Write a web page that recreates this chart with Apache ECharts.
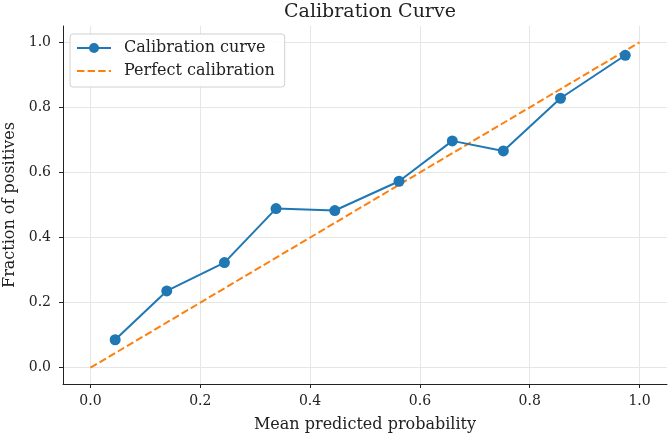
<!DOCTYPE html>
<html>
<head>
<meta charset="utf-8">
<script src="https://cdn.jsdelivr.net/npm/echarts@6/dist/echarts.min.js"></script>
<style>
  html, body { margin: 0; padding: 0; background: #fff; }
  #chart { width: 672px; height: 435px; }
</style>
</head>
<body>
<div id="chart"></div>
<script>
// values
var meanPredicted = [0.045, 0.139, 0.244, 0.338, 0.445, 0.562, 0.659, 0.752, 0.856, 0.974];
var fractionPositives = [0.086, 0.236, 0.323, 0.489, 0.483, 0.573, 0.697, 0.666, 0.828, 0.960];
var perfectX = [0, 1];
var perfectY = [0, 1];
var tickValues = [0, 0.2, 0.4, 0.6, 0.8, 1.0];

var font = "DejaVu Serif";

function pairs(xs, ys) {
  return xs.map(function (x, i) { return [x, ys[i]]; });
}

var chart = echarts.init(document.getElementById("chart"));

// axis settings shared by x and y (matplotlib look)
function axisCommon() {
  return {
    type: "value",
    min: -0.05,
    max: 1.05,
    axisLine: { show: true, onZero: false, lineStyle: { color: "#222", width: 1 } },
    axisTick: { show: true, inside: false, length: 4, customValues: tickValues, lineStyle: { color: "#222" } },
    axisLabel: {
      customValues: tickValues,
      fontFamily: font, fontSize: 14, color: "#222",
      formatter: function (v) { return v.toFixed(1); }
    },
    splitLine: { show: true, lineStyle: { color: "#e6e6e6", width: 1 } },
    nameLocation: "middle",
    nameTextStyle: { fontFamily: font, fontSize: 16, color: "#222" }
  };
}

var xAxis = axisCommon();
xAxis.name = "Mean predicted probability";
xAxis.nameGap = 33;
xAxis.axisLabel.margin = 10;

var yAxis = axisCommon();
yAxis.name = "Fraction of positives";
yAxis.nameGap = 45;
yAxis.axisLabel.margin = 12;

var option = {
  animation: false,
  backgroundColor: "#fff",
  title: {
    text: "Calibration Curve",
    left: 365, top: -2,
    textAlign: "center",
    textStyle: { fontFamily: font, fontSize: 19, fontWeight: "normal", color: "#222" }
  },
  grid: { left: 63, right: 5, top: 26, bottom: 51, containLabel: false, outerBoundsMode: "none" },
  legend: {
    orient: "vertical",
    left: 70, top: 34,
    padding: [6, 10, 8, 6],
    itemGap: 7,
    itemWidth: 34,
    itemHeight: 12.5,
    backgroundColor: "rgba(255,255,255,0.85)",
    borderColor: "#d0d0d0",
    borderWidth: 1,
    borderRadius: 3,
    textStyle: { fontFamily: font, fontSize: 16, color: "#222", padding: [0, 0, 0, 8] },
    data: [
      { name: "Calibration curve" },
      { name: "Perfect calibration", itemStyle: { opacity: 0 } }
    ]
  },
  xAxis: xAxis,
  yAxis: yAxis,
  series: [
    {
      name: "Calibration curve",
      type: "line",
      data: pairs(meanPredicted, fractionPositives),
      symbol: "circle",
      symbolSize: 11,
      itemStyle: { color: "#1f77b4" },
      lineStyle: { color: "#1f77b4", width: 2 },
      z: 3
    },
    {
      name: "Perfect calibration",
      type: "line",
      data: pairs(perfectX, perfectY),
      symbol: "none",
      itemStyle: { color: "#ff7f0e" },
      lineStyle: { color: "#ff7f0e", width: 2, type: [7.4, 3.2] },
      z: 2
    }
  ]
};

chart.setOption(option);
</script>
</body>
</html>
